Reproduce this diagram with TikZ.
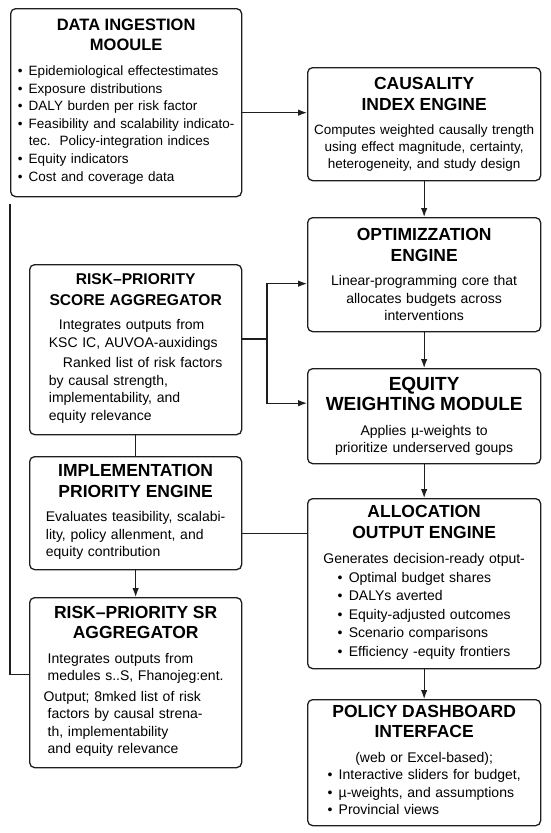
\documentclass[tikz,border=0pt]{standalone}
\usepackage{fontspec}
\setmainfont{Liberation Sans}
\usetikzlibrary{arrows.meta,positioning,calc}
\definecolor{ink}{HTML}{1E1E1E}
\newcommand{\boxbodyfont}{\fontsize{14}{17.5}\selectfont}
\newcommand{\boxhead}[2][17.5]{{\fontsize{#1}{20.5}\selectfont\bfseries #2\par}\vspace{7pt}}
\newcommand{\lblock}[1]{\begin{tabular}[t]{@{}l@{}}#1\end{tabular}}
\newcommand{\bul}{\textbullet\hspace{0.45em}}
\newcommand{\bulgap}{\phantom{\textbullet}\hspace{0.45em}}
\tikzset{
  box/.style={draw=ink,line width=1.3pt,rounded corners=5pt,fill=white,anchor=north west,
    inner xsep=2pt,inner ysep=4pt,align=center,font=\boxbodyfont,text=black,
    execute at begin node={\setlength{\parindent}{0pt}}},
  flow/.style={-{Latex[length=9pt,width=6.5pt]},line width=1.1pt,draw=ink},
  link/.style={line width=1.1pt,draw=ink},
}

\begin{document}
\begin{tikzpicture}[x=1pt,y=-1pt]
  \useasboundingbox (0,0) rectangle (550,833);
  % data input, top left
  \node[box,text width=227pt,minimum height=188pt,font=\fontsize{13.5}{17.6}\selectfont] (ingest) at (10,8)
    {\boxhead[16.5]{DATA INGESTION\\MOOULE}
     \lblock{\bul Epidemiological effectestimates\\
       \bul Exposure distributions\\
       \bul DALY burden per risk factor\\
       \bul Feasibility and scalability indicato-\\
       \bulgap tec.\ \ Policy-integration indices\\
       \bul Equity indicators\\
       \bul Cost and coverage data}};
  % right column (x = 307)
  \node[box,text width=229pt,minimum height=113pt,font=\fontsize{13.5}{17}\selectfont] (causal) at (307,67)
    {\boxhead{CAUSALITY\\INDEX ENGINE}
     Computes weighted causally trength\\
     using effect magnitude, certainty,\\
     heterogeneity, and study design};
  \node[box,text width=229pt,minimum height=114pt] (optim) at (307,217)
    {\boxhead{OPTIMIZZATION\\ENGINE}
     Linear-programming core that\\allocates budgets across\\interventions};
  \node[box,text width=229pt,minimum height=95pt] (equity) at (307,368)
    {\boxhead[19]{EQUITY\\WEIGHTING MODULE}
     Applies µ-weights to\\prioritize underserved goups};
  \node[box,text width=229pt,minimum height=170pt,font=\fontsize{14}{18.5}\selectfont] (alloc) at (307,498)
    {\boxhead{ALLOCATION\\OUTPUT ENGINE}
     Generates decision-ready otput-\par
     \lblock{\bul Optimal budget shares\\
       \bul DALYs averted\\
       \bul Equity-adjusted outcomes\\
       \bul Scenario comparisons\\
       \bul Efficiency -equity frontiers}};
  \node[box,text width=229pt,minimum height=126pt] (policy) at (307,699)
    {\boxhead{POLICY DASHBOARD\\INTERFACE}
     (web or Excel-based);\par
     \lblock{\bul Interactive sliders for budget,\\
       \bul µ-weights, and assumptions\\
       \bul Provincial views}};
  % left column (x = 29)
  \node[box,text width=208pt,minimum height=170pt] (rpsa) at (29,264)
    {\boxhead[15.6]{RISK–PRIORITY\\SCORE AGGREGATOR}
     \lblock{\hspace*{10pt}Integrates outputs from\\
       KSC IC, AUVOA-auxidings\\[3pt]
       \hspace*{14pt}Ranked list of risk factors\\
       by causal strength,\\
       implementability, and\\
       equity relevance}};
  \node[box,text width=208pt,minimum height=113pt] (impl) at (29,456)
    {\boxhead{IMPLEMENTATION\\PRIORITY ENGINE}
     \lblock{Evaluates teasibility, scalabi-\\
       lity, policy allenment, and\\
       equity contribution}};
  \node[box,text width=208pt,minimum height=170pt] (rpsr) at (29,597)
    {\boxhead{RISK–PRIORITY SR\\AGGREGATOR}
     \lblock{Integrates outputs from\\
       medules s..S, Fhanojeg:ent.\\[3pt]
       \hspace*{-4pt}Output; 8mked list of risk\\
       factors by causal strena-\\
       th, implementability\\
       and equity relevance}};
  % connectors
  \draw[flow] ([yshift=-10pt]ingest.east) -- ([yshift=-10pt]ingest.east -| causal.west);
  \foreach \a/\b in {causal/optim,optim/equity,equity/alloc,alloc/policy}
    \draw[flow] (\a.south) -- (\b.north);
  \coordinate (split) at (267,339);
  \draw[link] (rpsa.east |- split) -- (split);
  \draw[flow] (split) |- ([yshift=-9pt]optim.west);
  \draw[flow] (split) |- ([yshift=13pt]equity.west);
  \draw[link] (rpsa.south) -- (impl.north);
  \draw[flow] (impl.south) -- (rpsr.north);
  \draw[link] ([yshift=-20pt]impl.east) -- ([yshift=-20pt]impl.east -| alloc.west);
  \draw[link] ([yshift=-7pt]ingest.south west) |- ([yshift=8pt]rpsr.west);
\end{tikzpicture}
\end{document}
